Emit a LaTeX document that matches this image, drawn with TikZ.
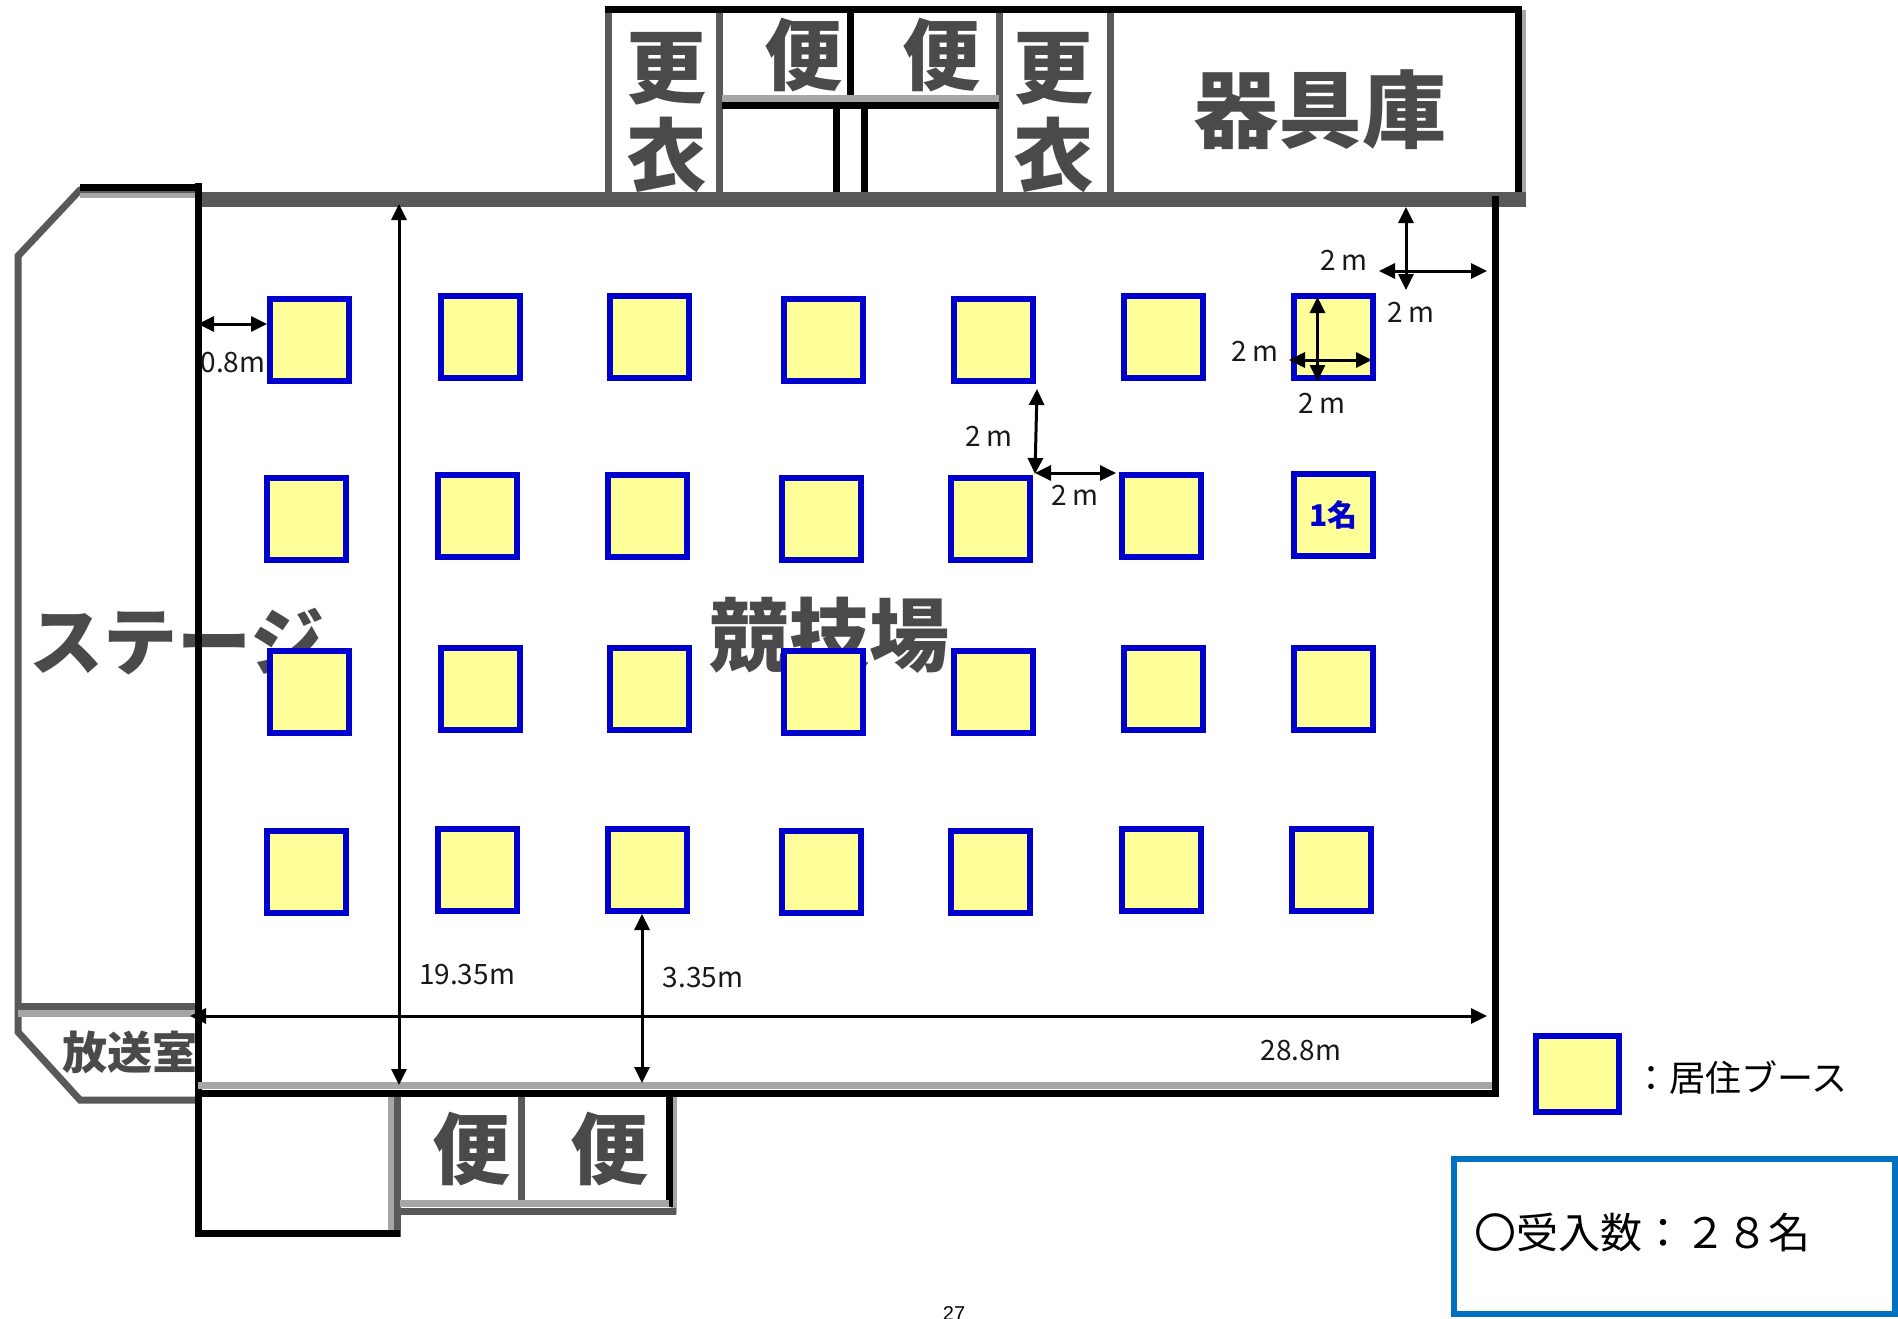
\documentclass[tikz,border=0pt]{standalone}
\usepackage{fontspec}
\setmainfont{Noto Sans CJK JP}
\newfontfamily\jp{Noto Sans CJK JP}
\newfontfamily\pagefont{Liberation Sans}
\usetikzlibrary{arrows.meta}
\definecolor{wallgray}{HTML}{595959}
\definecolor{palegray}{HTML}{A6A6A6}
\definecolor{boothblue}{HTML}{0000CC}
\definecolor{boothfill}{HTML}{FFFF99}
\definecolor{boxblue}{HTML}{0070C0}
\definecolor{kanji}{HTML}{4A4A4A}
\tikzset{
  x=1pt,y=-1pt,
  booth/.style={rectangle,draw=boothblue,fill=boothfill,line width=6pt,minimum width=79pt,minimum height=82pt,inner sep=0pt,text=boothblue,font=\jp\bfseries\fontsize{30}{30}\selectfont},
  dim/.style={inner sep=0pt,text=black!90,font=\jp\fontsize{28}{28}\selectfont},
  room/.style={inner sep=0pt,text=kanji,font=\jp\bfseries\fontsize{#1}{#1}\selectfont},
  arr/.style={line width=3pt,black,{Triangle[length=16pt,width=15pt]}-{Triangle[length=16pt,width=15pt]}},
  wall/.style={line width=7pt,black,line cap=butt},
  dwall/.style={line width=7pt,wallgray,line cap=butt},
  pale/.style={line width=7pt,palegray,line cap=butt},
}
\begin{document}
\begin{tikzpicture}
\useasboundingbox (0,0) rectangle (1898,1319);
\fill[white] (0,0) rectangle (1898,1319);

% kanji room labels (behind the booths)
\node[room=80] (kou1) at (666,69) {更};
\node[room=80] (i1) at (666,155) {衣};
\node[room=78] (ben1) at (803,55) {便};
\node[room=78] (ben2) at (941,55) {便};
\node[room=80] (kou2) at (1053.5,69) {更};
\node[room=80] (i2) at (1053.5,155) {衣};
\node[room=84] (kigu) at (1320,110) {器具庫};
\node[room=80] (kyogi) at (829,635) {競技場};
\node[room=74] (stage) at (177,642) {ステージ};
\node[room=45] (hoso) at (130,1052) {放送室};
\node[room=78] (ben3) at (471,1149) {便};
\node[room=78] (ben4) at (609,1149) {便};

% stage outline
\draw[line width=7pt,wallgray,line join=miter] (198,190) -- (80,190) -- (18,256) -- (18,1032) -- (80,1100) -- (198,1100);
\draw[line width=7pt,black] (80,187.5) -- (198,187.5);
\draw[line width=5pt,palegray] (80,195) -- (198,195);
\draw[dwall] (18,1006) -- (198,1006);
\draw[pale] (18,1013) -- (198,1013);

% top block
\draw[line width=6pt,palegray] (1523,10) -- (1523,200);
\draw[dwall] (608,10) -- (608,195);
\draw[dwall] (719,10) -- (719,195);
\draw[wall] (850.5,10) -- (850.5,106);
\draw[dwall] (999,10) -- (999,195);
\draw[dwall] (1110.5,10) -- (1110.5,195);
\draw[line width=7pt,palegray] (722,98.5) -- (999,98.5);
\draw[wall] (722,106) -- (999,106);
\draw[wall] (836,106) -- (836,195);
\draw[wall] (864,106) -- (864,195);
\draw[wall] (604.5,10) -- (1521.5,10);
\draw[wall] (1518,6.5) -- (1518,195);
\draw[line width=15pt,wallgray] (198,199.5) -- (1526,199.5);

% main hall walls
\draw[wall] (198,183) -- (198,1237);
\draw[wall] (1495,196) -- (1495,1097);
\draw[pale] (198,1085.5) -- (1491.5,1085.5);
\draw[wall] (198,1093) -- (1498.5,1093);

% lower rooms
\draw[line width=6pt,palegray] (391,1097) -- (391,1230);
\draw[dwall] (397,1097) -- (397,1237);
\draw[dwall] (521,1097) -- (521,1207);
\draw[line width=6pt,palegray] (674,1097) -- (674,1214);
\draw[wall] (669,1097) -- (669,1207);
\draw[pale] (400,1203.5) -- (669,1203.5);
\draw[dwall] (397,1211) -- (676,1211);
\draw[wall] (198,1233.5) -- (400,1233.5);

% booths
\node[booth] (b11) at (309.3,339.6) {};
\node[booth] (b12) at (480,337.1) {};
\node[booth] (b13) at (649.4,337.1) {};
\node[booth] (b14) at (823.8,339.6) {};
\node[booth] (b15) at (993.2,339.6) {};
\node[booth] (b16) at (1163.9,337.1) {};
\node[booth] (b17) at (1333.4,337.1) {};
\node[booth] (b21) at (306.9,518.7) {};
\node[booth] (b22) at (477.5,516.3) {};
\node[booth] (b23) at (647,516.3) {};
\node[booth] (b24) at (821.4,518.7) {};
\node[booth] (b25) at (990.8,518.7) {};
\node[booth] (b26) at (1161.5,516.3) {};
\node[booth] (b27) at (1333.4,515) {1名};
\node[booth] (b31) at (309.3,691.8) {};
\node[booth] (b32) at (480,689.4) {};
\node[booth] (b33) at (649.4,689.4) {};
\node[booth] (b34) at (823.8,691.8) {};
\node[booth] (b35) at (993.2,691.8) {};
\node[booth] (b36) at (1163.9,689.4) {};
\node[booth] (b37) at (1333.4,689.4) {};
\node[booth] (b41) at (306.9,872.2) {};
\node[booth] (b42) at (477.5,869.8) {};
\node[booth] (b43) at (647,869.8) {};
\node[booth] (b44) at (821.4,872.2) {};
\node[booth] (b45) at (990.8,872.2) {};
\node[booth] (b46) at (1161.5,869.8) {};
\node[booth] (b47) at (1331,869.8) {};

% dimension end points
\coordinate (t1) at (1406,207);
\coordinate (t2) at (1406,290);
\coordinate (t3) at (1379,271);
\coordinate (t4) at (1487,271);
\coordinate (u1) at (1317.5,297);
\coordinate (u2) at (1317.5,381);
\coordinate (u3) at (1289,360);
\coordinate (u4) at (1372,360);
\coordinate (m1) at (1037,389);
\coordinate (m2) at (1035,474);
\coordinate (m3) at (1035,473);
\coordinate (m4) at (1116,473);
\coordinate (o1) at (198,324);
\coordinate (o2) at (267,324);
\coordinate (h1) at (399,204);
\coordinate (h2) at (399,1085);
\coordinate (s1) at (642,914);
\coordinate (s2) at (642,1083);
\coordinate (w1) at (190,1016);
\coordinate (w2) at (1487,1016);

\draw[arr] (t1) -- (t2);
\draw[arr] (t3) -- (t4);
\draw[arr] (u1) -- (u2);
\draw[arr] (u3) -- (u4);
\draw[arr] (m1) -- (m2);
\draw[arr] (m3) -- (m4);
\draw[arr] (o1) -- (o2);
\draw[arr] (h1) -- (h2);
\draw[arr] (s1) -- (s2);
\draw[arr] (w1) -- (w2);

% dimension labels
\node[dim] (d1) at (1344,260) {2 m};
\node[dim] (d2) at (1411,312) {2 m};
\node[dim] (d3) at (1255,351) {2 m};
\node[dim] (d4) at (1322,403) {2 m};
\node[dim] (d5) at (989,436) {2 m};
\node[dim] (d6) at (1075,495) {2 m};
\node[dim] (d7) at (233,363) {0.8m};
\node[dim] (d8) at (467,975) {19.35m};
\node[dim] (d9) at (703,978) {3.35m};
\node[dim] (d10) at (1301,1051) {28.8m};

% legend
\node[booth,minimum width=83pt,minimum height=76pt] (legendbox) at (1577,1074) {};
\node[inner sep=0pt,anchor=west,font=\jp\fontsize{36}{36}\selectfont] (legendtext) at (1633,1078) {：居住ブース};

% capacity box
\node[draw=boxblue,line width=6pt,minimum width=441pt,minimum height=155pt,inner sep=0pt,anchor=north west] (capbox) at (1451,1156) {};
\node[inner sep=0pt,anchor=west,font=\jp\fontsize{42}{42}\selectfont] (captext) at (1474,1233) {〇受入数：２８名};

% page number
\node[inner sep=0pt,font=\pagefont\fontsize{20}{20}\selectfont] (pageno) at (954,1314) {27};
\end{tikzpicture}
\end{document}
